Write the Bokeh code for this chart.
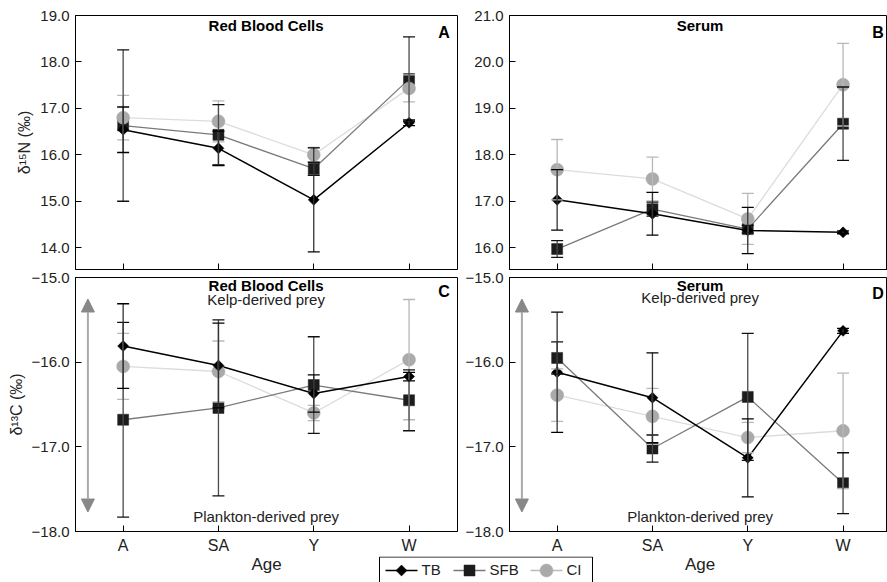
import numpy as np
from bokeh.plotting import figure
from bokeh.models import (ColumnDataSource, Whisker, TeeHead, FixedTicker, Range1d,
                          Arrow, NormalHead, CustomJSTickFormatter)
from bokeh.layouts import column, row
from bokeh.embed import file_html
from bokeh.resources import INLINE
from bokeh.core.properties import value

FONT = "Liberation Sans"

# ---------------- data ----------------
ages = ["A", "SA", "Y", "W"]
series_names = ["TB", "SFB", "CI"]

# Panel A: d15N, red blood cells
rbc_n_tb = [16.54, 16.14, 15.03, 16.69]
rbc_n_tb_err = [0.49, 0.37, 1.12, 0.06]
rbc_n_sfb = [16.63, 16.43, 15.70, 17.63]
rbc_n_sfb_err = [1.63, 0.65, 0.14, 0.91]
rbc_n_ci = [16.80, 16.72, 16.00, 17.43]
rbc_n_ci_err = [0.48, 0.44, 0.16, 0.29]

# Panel B: d15N, serum
ser_n_tb = [17.03, 16.73, 16.37, 16.33]
ser_n_tb_err = [0.65, 0.46, 0.50, 0.03]
ser_n_sfb = [15.97, 16.83, 16.40, 18.67]
ser_n_sfb_err = [0.18, 0.15, 0.08, 0.79]
ser_n_ci = [17.68, 17.48, 16.62, 19.51]
ser_n_ci_err = [0.65, 0.47, 0.55, 0.89]

# Panel C: d13C, red blood cells
rbc_c_tb = [-15.81, -16.04, -16.37, -16.17]
rbc_c_tb_err = [0.50, 0.50, 0.22, 0.05]
rbc_c_sfb = [-16.68, -16.54, -16.27, -16.45]
rbc_c_sfb_err = [1.15, 1.04, 0.57, 0.36]
rbc_c_ci = [-16.05, -16.11, -16.60, -15.97]
rbc_c_ci_err = [0.39, 0.36, 0.09, 0.71]

# Panel D: d13C, serum
ser_c_tb = [-16.12, -16.42, -17.13, -15.63]
ser_c_tb_err = [0.71, 0.53, 0.46, 0.03]
ser_c_sfb = [-15.95, -17.02, -16.41, -17.43]
ser_c_sfb_err = [0.19, 0.16, 0.75, 0.36]
ser_c_ci = [-16.39, -16.64, -16.89, -16.81]
ser_c_ci_err = [0.31, 0.33, 0.18, 0.68]

yticks_rbc_n = [14.0, 15.0, 16.0, 17.0, 18.0, 19.0]
yticks_ser_n = [16.0, 17.0, 18.0, 19.0, 20.0, 21.0]
yticks_c = [-18.0, -17.0, -16.0, -15.0]

STYLE = {
    "TB": dict(line="#000000", lw=1.5, marker="square", angle=np.pi / 4, size=7.8,
               fill="#000000", err="#333333", cap="#000000"),
    "SFB": dict(line="#7a7a7a", lw=1.3, marker="square", angle=0.0, size=11,
                fill="#1c1c1c", err="#4a4a4a", cap="#111111"),
    "CI": dict(line="#dcdcdc", lw=1.3, marker="circle", angle=0.0, size=13,
               fill="#aaaaaa", err="#b8b8b8", cap="#b8b8b8"),
}

FRAME_H = 254
PPX = 95.3  # pixels per age step
LEFT_W, RIGHT_W = 382, 378


def make_panel(left_b, frame_w, top_b, bottom_b, y0, y1, yticks, ylabel, title, letter,
               data, show_x_labels, title_off, letter_off, kelp_off=None):
    x_end = -0.5 + frame_w / PPX
    p = figure(frame_width=frame_w, frame_height=FRAME_H,
               x_range=Range1d(-0.5, x_end), y_range=Range1d(y0, y1),
               min_border_left=left_b, min_border_right=2 if frame_w > 380 else 0,
               min_border_top=top_b, min_border_bottom=bottom_b,
               toolbar_location=None, tools="", output_backend="svg")
    p.xgrid.visible = False
    p.ygrid.visible = False
    p.outline_line_color = "black"
    p.outline_line_width = 1
    p.background_fill_color = "white"
    p.border_fill_color = "white"
    for ax in p.axis:
        ax.major_tick_in = 6
        ax.major_tick_out = 0
        ax.minor_tick_in = 0
        ax.minor_tick_out = 0
        ax.axis_line_color = "black"
        ax.major_tick_line_color = "black"
        ax.major_label_text_font = FONT
        ax.major_label_text_color = "#222222"
    p.xaxis.ticker = FixedTicker(ticks=list(range(len(ages))))
    if show_x_labels:
        p.xaxis.formatter = CustomJSTickFormatter(args=dict(labels=ages),
                                                  code="return labels[Math.round(tick)] || '';")
        p.xaxis.major_label_text_font_size = "16px"
        p.xaxis.major_label_standoff = 5
    else:
        p.xaxis.formatter = CustomJSTickFormatter(code="return '';")
        p.xaxis.major_label_standoff = 0
    p.yaxis.ticker = FixedTicker(ticks=yticks)
    p.yaxis.formatter = CustomJSTickFormatter(
        code="return tick.toFixed(1).replace('-', '\u2212');")
    p.yaxis.major_label_text_font_size = "15px"
    p.yaxis.major_label_standoff = 6
    if ylabel:
        p.yaxis.axis_label = ylabel
        p.yaxis.axis_label_text_font = FONT
        p.yaxis.axis_label_text_font_size = "16px"
        p.yaxis.axis_label_text_font_style = "normal"
        p.yaxis.axis_label_text_color = "#222222"
        p.yaxis.axis_label_standoff = 4

    ppy = FRAME_H / (y1 - y0)
    xs = list(range(len(ages)))

    # lines
    for name in ["CI", "SFB", "TB"]:
        st = STYLE[name]
        p.line(xs, data[name][0], line_color=st["line"], line_width=st["lw"])
    # markers
    for name in ["SFB", "CI", "TB"]:
        st = STYLE[name]
        p.scatter(xs, data[name][0], marker=st["marker"], size=st["size"], angle=st["angle"],
                  fill_color=st["fill"], line_color=st["fill"], line_width=0.5)
    # error bars
    for name in ["CI", "SFB", "TB"]:
        st = STYLE[name]
        vals, errs = data[name]
        src = ColumnDataSource(dict(x=xs,
                                    upper=[v + e for v, e in zip(vals, errs)],
                                    lower=[v - e for v, e in zip(vals, errs)]))
        w = Whisker(source=src, base="x", upper="upper", lower="lower",
                    line_color=st["err"], line_width=1.3, level="annotation",
                    upper_head=TeeHead(size=12, line_color=st["cap"], line_width=1.3),
                    lower_head=TeeHead(size=12, line_color=st["cap"], line_width=1.3))
        p.add_layout(w)

    # titles and letters
    p.text(x=[1.5], y=[y1 - title_off / ppy], text=[title], text_align="center",
           text_baseline="middle", text_font=value(FONT), text_font_size="15px",
           text_font_style="bold", text_color="black")
    p.text(x=[3.5 - 7 / PPX], y=[y1 - letter_off / ppy], text=[letter], text_align="right",
           text_baseline="middle", text_font=value(FONT), text_font_size="16px",
           text_font_style="bold", text_color="black")
    if kelp_off is not None:
        p.text(x=[1.5], y=[y1 - kelp_off / ppy], text=["Kelp-derived prey"], text_align="center",
               text_baseline="middle", text_font=value(FONT), text_font_size="15px",
               text_color="#222222")
        p.text(x=[1.5], y=[y0 + 15.5 / ppy], text=["Plankton-derived prey"],
               text_align="center", text_baseline="middle", text_font=value(FONT),
               text_font_size="15px", text_color="#222222")
        ax_x = -0.5 + 12.4 / PPX
        arr = Arrow(start=NormalHead(size=13, fill_color="#888888", line_color="#888888"),
                    end=NormalHead(size=13, fill_color="#888888", line_color="#888888"),
                    x_start=ax_x, y_start=y1 - 21.5 / ppy, x_end=ax_x, y_end=y0 + 19.5 / ppy,
                    line_color="#aaaaaa", line_width=2)
        p.add_layout(arr)
    return p


pA = make_panel(75, LEFT_W, 15, 1, 13.53, 19.0, yticks_rbc_n, "δ¹⁵N (‰)", "Red Blood Cells", "A",
                {"TB": (rbc_n_tb, rbc_n_tb_err), "SFB": (rbc_n_sfb, rbc_n_sfb_err),
                 "CI": (rbc_n_ci, rbc_n_ci_err)}, False, 9.5, 17)
pB = make_panel(50, RIGHT_W, 15, 1, 15.53, 21.0, yticks_ser_n, None, "Serum", "B",
                {"TB": (ser_n_tb, ser_n_tb_err), "SFB": (ser_n_sfb, ser_n_sfb_err),
                 "CI": (ser_n_ci, ser_n_ci_err)}, False, 9.5, 17)
pC = make_panel(75, LEFT_W, 7, 24, -18.0, -15.0, yticks_c, "δ¹³C (‰)", "Red Blood Cells", "C",
                {"TB": (rbc_c_tb, rbc_c_tb_err), "SFB": (rbc_c_sfb, rbc_c_sfb_err),
                 "CI": (rbc_c_ci, rbc_c_ci_err)}, True, 7.5, 14, kelp_off=22.3)
pD = make_panel(50, RIGHT_W, 7, 24, -18.0, -15.0, yticks_c, None, "Serum", "D",
                {"TB": (ser_c_tb, ser_c_tb_err), "SFB": (ser_c_sfb, ser_c_sfb_err),
                 "CI": (ser_c_ci, ser_c_ci_err)}, True, 7.5, 15.5, kelp_off=20)

# ---------------- legend / "Age" strip ----------------
TOTAL_W = 887
LEG_H = 27
leg = figure(width=TOTAL_W, height=LEG_H, x_range=Range1d(0, TOTAL_W), y_range=Range1d(0, LEG_H),
             min_border=0, x_axis_location=None, y_axis_location=None,
             toolbar_location=None, tools="", output_backend="svg")
leg.grid.visible = False
leg.outline_line_color = None
leg.background_fill_color = "white"
leg.border_fill_color = "white"

left_center = 75 + LEFT_W / 2
right_center = 75 + LEFT_W + 2 + 50 + 2.0 * PPX
leg.text(x=[left_center, right_center], y=[19.5, 19.5], text=["Age", "Age"], text_align="center",
         text_baseline="middle", text_font=value(FONT), text_font_size="17px",
         text_color="#222222")

leg.quad(left=[379], right=[592], top=[26.5], bottom=[-20], fill_color="white",
         line_color="black", line_width=1)
item_x = {"TB": 385, "SFB": 453, "CI": 530}
row_y = 13
for name in series_names:
    st = STYLE[name]
    x0 = item_x[name]
    leg.segment(x0=[x0], y0=[row_y], x1=[x0 + 32], y1=[row_y],
                line_color=st["line"] if name != "CI" else "#bbbbbb", line_width=st["lw"])
    leg.scatter([x0 + 16], [row_y], marker=st["marker"], size=st["size"], angle=st["angle"],
                fill_color=st["fill"], line_color=st["fill"], line_width=0.5)
    leg.text(x=[x0 + 36], y=[row_y + 1.5], text=[name], text_align="left", text_baseline="middle",
             text_font=value(FONT), text_font_size="15px", text_color="#222222")

layout = column(row(pA, pB), row(pC, pD), leg)
open("out.html", "w").write(file_html(layout, INLINE))
